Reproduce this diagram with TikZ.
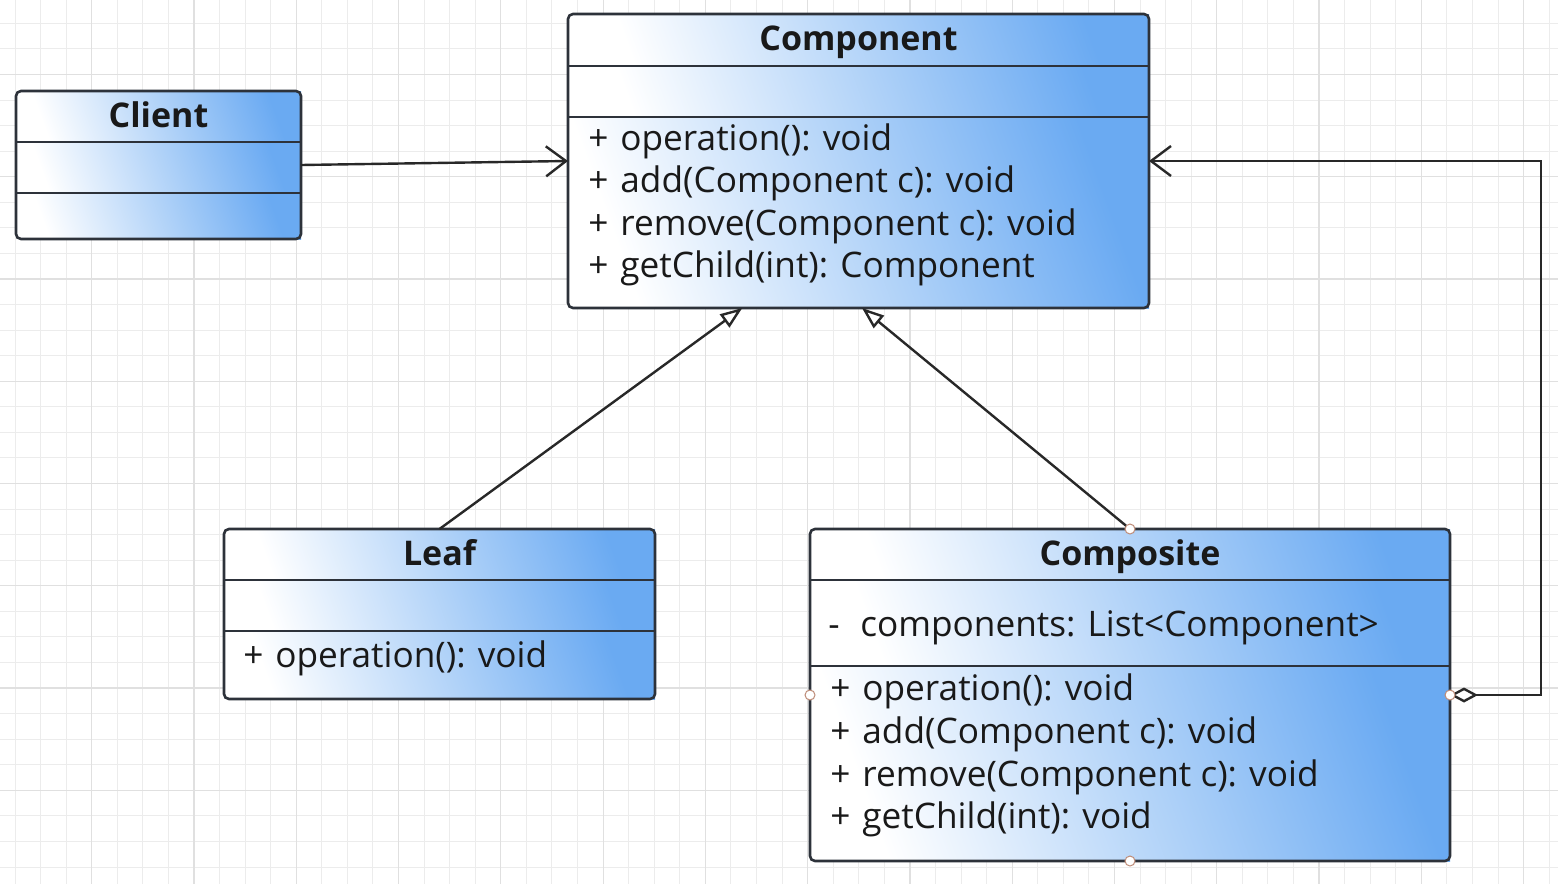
\documentclass[tikz,border=0pt]{standalone}
\usepackage{fontspec}
\setmainfont{Open Sans}
\usetikzlibrary{arrows.meta,calc}
\definecolor{umlblue}{RGB}{106,170,242}
\definecolor{gminor}{RGB}{236,236,236}
\definecolor{gmajor}{RGB}{224,224,224}
\definecolor{edgecol}{RGB}{45,50,58}
\definecolor{linecol}{RGB}{40,40,40}
\definecolor{handlecol}{RGB}{190,140,120}
\newcommand\pre[1]{\makebox[16pt][l]{#1}}
\newcommand\compart[4]{\shade[left color=white,right color=umlblue,shading angle=110] (#1,#2) rectangle (#3,#4);}
\begin{document}
\begin{tikzpicture}[x=0.5pt,y=-0.5pt,
  font=\fontsize{17.6}{21}\selectfont,
  umlbox/.style={draw=edgecol,line width=1.3pt,rounded corners=2.5pt,inner sep=0pt,outer sep=0pt},
  divider/.style={draw=edgecol,line width=1.3pt},
  titletext/.style={font=\fontsize{17}{21}\selectfont\bfseries,text=black!90,anchor=base,inner sep=0pt},
  member/.style={text=black!90,anchor=base west,inner sep=0pt},
  conn/.style={draw=linecol,line width=1.2pt},
  handle/.style={circle,draw=handlecol,fill=white,line width=0.5pt,minimum size=5pt,inner sep=0pt},
  gen/.style={-{Triangle[fill=white,length=11pt,width=8pt]}},
  assoc/.style={-{Straight Barb[length=10pt,width=15pt]}}
]
\useasboundingbox (0,0) rectangle (1558,884);
\fill[white] (0,0) rectangle (1558,884);
% grid
\foreach \i in {0,...,60} \draw[gminor,line width=0.5pt] (15+\i*25.57,0) -- (15+\i*25.57,884);
\foreach \i in {0,...,34} \draw[gminor,line width=0.5pt] (0,23.3+\i*25.57) -- (1558,23.3+\i*25.57);
\foreach \i in {0,...,14} \draw[gmajor,line width=0.6pt] (91.7+\i*102.28,0) -- (91.7+\i*102.28,884);
\foreach \i in {0,...,8} \draw[gmajor,line width=0.6pt] (0,74.4+\i*102.28) -- (1558,74.4+\i*102.28);

% Client
\compart{16}{91}{301}{142}
\compart{16}{142}{301}{193}
\compart{16}{193}{301}{239}
\node[umlbox,minimum width=142.5pt,minimum height=74pt] (client) at (158.5,165) {};
\draw[divider] (16,142) -- (301,142);
\draw[divider] (16,193) -- (301,193);
\node[titletext] (clientT) at (158.5,127) {Client};

% Component
\compart{568}{14}{1149}{66}
\compart{568}{66}{1149}{117}
\compart{568}{117}{1149}{308}
\node[umlbox,minimum width=290.5pt,minimum height=147pt] (component) at (858.5,161) {};
\draw[divider] (568,66) -- (1149,66);
\draw[divider] (568,117) -- (1149,117);
\node[titletext] (componentT) at (858.5,50) {Component};
\node[member] (cm1) at (588,150) {\pre{+}operation(): void};
\node[member] (cm2) at (588,192.5) {\pre{+}add(Component c): void};
\node[member] (cm3) at (588,235) {\pre{+}remove(Component c): void};
\node[member] (cm4) at (588,277.5) {\pre{+}getChild(int): Component};

% Leaf
\compart{224}{529}{655}{580}
\compart{224}{580}{655}{631}
\compart{224}{631}{655}{699}
\node[umlbox,minimum width=215.5pt,minimum height=85pt] (leaf) at (439.5,614) {};
\draw[divider] (224,580) -- (655,580);
\draw[divider] (224,631) -- (655,631);
\node[titletext] (leafT) at (439.5,565) {Leaf};
\node[member] (lm1) at (243,667.5) {\pre{+}operation(): void};

% Composite
\compart{810}{529}{1450}{580}
\compart{810}{580}{1450}{666}
\compart{810}{666}{1450}{861}
\node[umlbox,minimum width=320pt,minimum height=166pt] (composite) at (1130,695) {};
\draw[divider] (810,580) -- (1450,580);
\draw[divider] (810,666) -- (1450,666);
\node[titletext] (compositeT) at (1130,565) {Composite};
\node[member] (pa1) at (828,636) {\pre{-}components: List<Component>};
\node[member] (pm1) at (830,700.5) {\pre{+}operation(): void};
\node[member] (pm2) at (830,743.5) {\pre{+}add(Component c): void};
\node[member] (pm3) at (830,786.5) {\pre{+}remove(Component c): void};
\node[member] (pm4) at (830,828.5) {\pre{+}getChild(int): void};

% connectors
\draw[conn,assoc] (client.east) -- (component.west);
\draw[conn,gen] (leaf.north) -- ($(component.south west)!0.3!(component.south east)$);
\draw[conn,gen] (composite.north) -- ($(component.south)+(3.5,0)$);
\coordinate (turn) at (1541,161);
\draw[conn,{Diamond[fill=white,length=14pt,width=7.5pt]}-{Straight Barb[length=10pt,width=15pt]}] (composite.east) -| (turn) -- (component.east);

% handles
\node[handle] (h1) at (composite.north) {};
\node[handle] (h2) at (composite.west) {};
\node[handle] (h3) at (composite.east) {};
\node[handle] (h4) at (composite.south) {};
\end{tikzpicture}
\end{document}
